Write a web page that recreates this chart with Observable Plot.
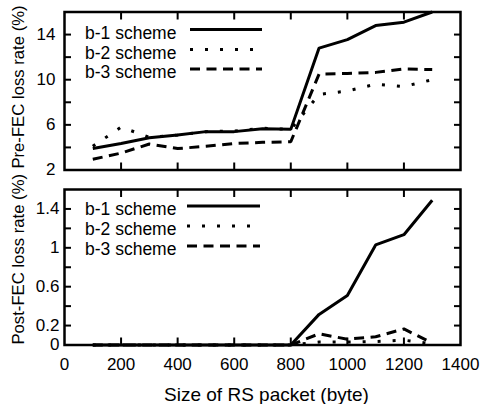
<!DOCTYPE html>
<html><head><meta charset="utf-8">
<script src="https://cdn.jsdelivr.net/npm/d3@7"></script>
<script src="https://cdn.jsdelivr.net/npm/@observablehq/plot@0.6"></script>
<style>
body{margin:0;background:#fff;}
#chart{position:relative;width:484px;height:404px;font-family:"Liberation Sans",Arial,Helvetica,sans-serif;}
#chart svg{position:absolute;left:0;overflow:visible;}
</style></head><body><div id="chart"></div>
<script>
// ---- data ----
const sizes = [100,200,300,400,500,600,700,800,900,1000,1100,1200,1300];
const seriesNames = ["b-1 scheme","b-2 scheme","b-3 scheme"];
const preB1 = [3.9,4.35,4.85,5.1,5.4,5.4,5.65,5.6,12.8,13.55,14.8,15.1,16.0];
const preB2 = [4.1,5.8,4.9,5.1,5.4,5.45,5.7,5.6,8.7,9.0,9.6,9.4,10.0];
const preB3 = [2.95,3.5,4.3,3.9,4.1,4.35,4.45,4.5,10.5,10.55,10.65,10.95,10.9];
const postB1 = [0,0,0,0,0,0,0,0,0.315,0.51,1.03,1.135,1.49];
const postB2 = [0,0,0,0,0,0,0,0,0.03,0.03,0.035,0.05,0.012];
const postB3 = [0,0,0,0,0,0,0,0,0.115,0.06,0.085,0.165,0.02];
const xTickLabels = [0,200,400,600,800,1000,1200,1400];
const xInnerTicks = [200,400,600,800,1000,1200];
const preTicks = [4,6,8,10,12,14];
const preTickLabels = [2,6,10,14];
const postTicks = [0.2,0.4,0.6,0.8,1.0,1.2,1.4];
const postTickLabels = [0,0.2,0.6,1,1.4];
const xTitle = "Size of RS packet (byte)";
const preTitle = "Pre-FEC loss rate (%)";
const postTitle = "Post-FEC loss rate (%)";

const dashes = [null, "3,12", "10,6.5"];
const FONT = '"Liberation Sans",Arial,Helvetica,sans-serif';

function toRows(vals){ return sizes.map((s,i)=>({x:s, y:vals[i]})); }

function panel({top, height, marginTop, marginBottom, yDomain, ticks, tickLabels, tickPad, values, title, titleDy, showX, legendY, legendX2}){
  const marks = [
    Plot.frame({stroke:"black", strokeWidth:2.5}),
    Plot.axisY(ticks, {anchor:"left", tickSize:-7, strokeWidth:2, tickFormat:()=>"", label:null}),
    Plot.axisY(ticks, {anchor:"right", tickSize:-7, strokeWidth:2, tickFormat:()=>"", label:null}),
    Plot.axisY(tickLabels, {anchor:"left", tickSize:0, tickPadding:tickPad, fontSize:17, label:null, tickFormat:d=>String(d)}),
    Plot.axisX(xInnerTicks, {anchor:"top", tickSize:-7, strokeWidth:2, tickFormat:()=>"", label:null}),
    Plot.axisX(xInnerTicks, {anchor:"bottom", tickSize:-7, strokeWidth:2, tickFormat:()=>"", label:null}),
    ...values.map((v,i)=>Plot.line(toRows(v), {x:"x", y:"y", stroke:"black", strokeWidth:3, strokeDasharray:dashes[i], strokeLinejoin:"miter", strokeLinecap:"butt"})),
    Plot.text([title], {frameAnchor:"left", textAnchor:"middle", lineAnchor:"middle", rotate:-90, dx:-46, dy:titleDy, fontSize:16.7, text:d=>d})
  ];
  if (showX) {
    marks.push(Plot.axisX(xTickLabels, {anchor:"bottom", tickSize:0, tickPadding:13, fontSize:17, label:null, tickFormat:d=>String(d)}));
    marks.push(Plot.text([xTitle], {frameAnchor:"bottom", textAnchor:"middle", lineAnchor:"middle", dy:50, dx:4, fontSize:19, text:d=>d}));
  }
  const svg = Plot.plot({
    width:484, height, marginLeft:64, marginRight:24, marginTop, marginBottom,
    style:{fontFamily:FONT, fontSize:"17px", background:"white", color:"black"},
    x:{domain:[0,1400]}, y:{domain:yDomain},
    marks
  });
  svg.style.top = top + "px";
  // legend
  const g = d3.select(svg).append("g").attr("font-family", FONT).attr("font-size", 17.5).attr("text-anchor","start");
  seriesNames.forEach((name,i)=>{
    const cy = legendY[i] - top;
    g.append("text").attr("x",85).attr("y",cy).attr("dy","0.35em").attr("text-anchor","start").text(name);
    g.append("line").attr("x1",legendX2[0]).attr("x2",legendX2[1]).attr("y1",cy-3).attr("y2",cy-3)
      .attr("stroke","black").attr("stroke-width",3).attr("stroke-dasharray",dashes[i]);
  });
  document.getElementById("chart").appendChild(svg);
}

panel({top:0, height:180, marginTop:11.5, marginBottom:10.5, yDomain:[2,16], ticks:preTicks, tickLabels:preTickLabels, tickPad:9,
  values:[preB1,preB2,preB3], title:preTitle, titleDy:-4, showX:false, legendY:[32.5,52.5,72], legendX2:[190,262]});
panel({top:180, height:224, marginTop:9, marginBottom:59.5, yDomain:[0,1.6], ticks:postTicks, tickLabels:postTickLabels, tickPad:5,
  values:[postB1,postB2,postB3], title:postTitle, titleDy:-8, showX:true, legendY:[209,229,249], legendX2:[187,260]});
</script></body></html>
